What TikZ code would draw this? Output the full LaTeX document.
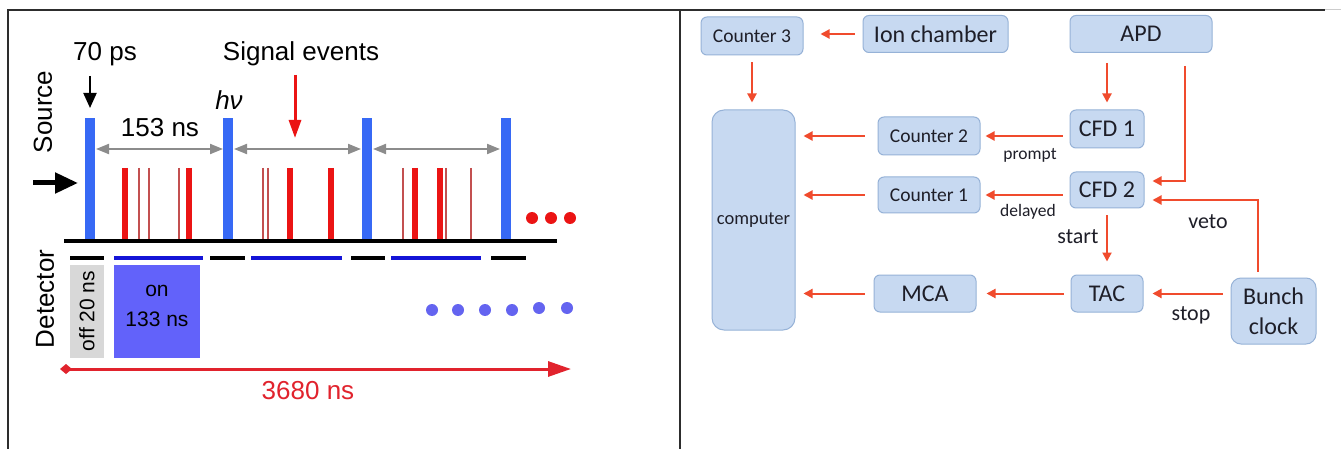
\documentclass[tikz,border=0pt]{standalone}
\usepackage{fontspec}
\setmainfont{Liberation Sans}
\newfontfamily\carlito{Carlito}
\usetikzlibrary{arrows.meta}
\definecolor{pulseblue}{RGB}{55,105,245}
\definecolor{sigred}{RGB}{235,20,20}
\definecolor{thinred}{RGB}{195,80,80}
\definecolor{detblue}{RGB}{20,20,215}
\definecolor{onblue}{RGB}{98,98,250}
\definecolor{dotblue}{RGB}{100,100,240}
\definecolor{offgray}{RGB}{216,216,216}
\definecolor{spanred}{RGB}{225,35,45}
\definecolor{boxfill}{RGB}{199,217,241}
\definecolor{boxline}{RGB}{150,178,215}
\definecolor{flow}{RGB}{240,75,45}
\definecolor{framegray}{RGB}{45,45,45}
\definecolor{spangray}{RGB}{140,140,140}
\definecolor{labeltext}{RGB}{30,30,40}
\begin{document}
\begin{tikzpicture}[x=1pt,y=-1pt,
  big/.style={font=\fontsize{26}{30}\selectfont, inner sep=0pt},
  small/.style={font=\fontsize{21}{30}\selectfont, inner sep=0pt},
  unit/.style={draw=boxline, line width=1pt, fill=boxfill, rounded corners=6pt,
    font=\carlito\fontsize{24}{27}\selectfont, inner sep=0pt, text=labeltext},
  unitsm/.style={unit, font=\carlito\fontsize{19.5}{22}\selectfont},
  flowarr/.style={draw=flow, line width=2pt, -{Triangle[length=9pt,width=9pt]}},
  tag/.style={font=\carlito\fontsize{22}{24}\selectfont, inner sep=0pt, text=labeltext},
  tagsm/.style={font=\carlito\fontsize{17.5}{20}\selectfont, inner sep=0pt, text=labeltext},
  span/.style={draw=spangray, line width=2pt,
    {Triangle[length=13pt,width=10pt]}-{Triangle[length=13pt,width=10pt]}},
  pulse/.style={fill=pulseblue},
  sigthick/.style={draw=sigred, line width=6pt},
  sigthin/.style={draw=thinred, line width=1.6pt},
  gate/.style={line width=4pt},
]
\useasboundingbox (0,0) rectangle (1341,449);
\fill[white] (0,0) rectangle (1341,449);

% panel frames
\draw[framegray, line width=1.6pt] (8,449) -- (8,10) -- (680,10) -- (680,449);
\draw[framegray, line width=1.6pt] (680,10) -- (1325,10);
\draw[gray!40, line width=1pt] (1325,10) -- (1341,10);

% ---------------- timing diagram ----------------
\node[big, rotate=90] (src) at (43,112) {Source};
\node[big, rotate=90] (det) at (45,299) {Detector};
\node[big] (ps) at (105,54) {70 ps};
\node[big] (sig) at (301,54) {Signal events};
\node[big] (per) at (160,128) {153 ns};
\node[big, font=\fontsize{26}{30}\selectfont\itshape] (hnu) at (229,100) {hν};
\node[big, text=spanred] (tot) at (308,391) {3680 ns};

\draw[line width=2pt, -{Triangle[length=15pt,width=13pt]}] (90,76) -- (90,108);
\draw[sigred, line width=3pt, -{Triangle[length=18pt,width=12pt]}] (295,75) -- (295,138);
\draw[line width=5pt, -{Triangle[length=23pt,width=20pt]}] (33,183) -- (78,183);

% source pulses
\foreach \x in {90,228,367,506}
  \fill[pulse] (\x-5,118) rectangle (\x+5,241);

% pulse spacing
\draw[span] (96,149) -- (223,149);
\draw[span] (234,149) -- (361,149);
\draw[span] (373,149) -- (500,149);

% signal events
\foreach \x in {125,189,290,331,415,440}
  \draw[sigthick] (\x,168) -- (\x,241);
\foreach \x in {139,149,179,263,268,403,446,471}
  \draw[sigthin] (\x,168) -- (\x,241);

% time axis
\draw[line width=4pt] (64,241) -- (557,241);

% more pulses follow
\foreach \x in {532,551,570}
  \fill[sigred] (\x,218) circle (6);

% detector gating
\draw[gate] (70,258) -- (104,258);
\draw[gate, detblue] (114,258) -- (203,258);
\draw[gate] (210,258) -- (245,258);
\draw[gate, detblue] (251,258) -- (342,258);
\draw[gate] (351,258) -- (385,258);
\draw[gate, detblue] (391,258) -- (481,258);
\draw[gate] (491,258) -- (526,258);

\fill[offgray] (70,265) rectangle (104,358);
\fill[onblue] (114,265) rectangle (200,358);
\node[small, rotate=90] (off) at (87,311) {off 20 ns};
\node[small, align=center] (on) at (157,306) {on\\133 ns};

\foreach \x/\y in {432/310,458/310,485/310,512/310,539/308,567/308}
  \fill[dotblue] (\x,\y) circle (6);

\draw[spanred, line width=3pt,
  {Diamond[length=12pt,width=10pt]}-{Triangle[length=23pt,width=15pt]}] (60,369) -- (571,369);

% ---------------- counting electronics ----------------
\node[unitsm, minimum width=102pt, minimum height=38pt] (c3) at (752,36) {Counter 3};
\node[unit, minimum width=145pt, minimum height=37pt] (ion) at (935.5,34) {Ion chamber};
\node[unit, minimum width=142pt, minimum height=37pt] (apd) at (1141,34) {APD};
\node[unit, minimum width=83pt, minimum height=220pt, rounded corners=12pt,
  font=\carlito\fontsize{18.5}{22}\selectfont] (comp) at (753.5,220) {computer};
\node[unitsm, minimum width=102pt, minimum height=38pt] (c2) at (929,136) {Counter 2};
\node[unitsm, minimum width=102pt, minimum height=36pt] (c1) at (929,195) {Counter 1};
\node[unit, minimum width=74pt, minimum height=38pt] (cfd1) at (1107,129) {CFD 1};
\node[unit, minimum width=74pt, minimum height=36pt] (cfd2) at (1107,190) {CFD 2};
\node[unit, minimum width=72pt, minimum height=37pt] (tac) at (1107,293.5) {TAC};
\node[unit, minimum width=102pt, minimum height=37pt] (mca) at (925,293.5) {MCA};
\node[unit, minimum width=85pt, minimum height=66pt, rounded corners=10pt,
  align=center, font=\carlito\fontsize{24}{30}\selectfont] (bunch) at (1273.5,311) {Bunch\\clock};

\draw[flowarr, shorten <=8pt, shorten >=17pt] (ion.west) -- (ion.west -| c3.east);
\draw[flowarr, shorten <=7pt, shorten >=7pt] (c3.south) -- (c3.south |- comp.north);
\draw[flowarr, shorten <=13pt, shorten >=8pt] (c2.west) -- (c2.west -| comp.east);
\draw[flowarr, shorten <=13pt, shorten >=8pt] (c1.west) -- (c1.west -| comp.east);
\draw[flowarr, shorten <=9pt, shorten >=8pt] (mca.west) -- (mca.west -| comp.east);
\draw[flowarr, shorten <=7pt, shorten >=5pt] (c2.east -| cfd1.west) -- (c2.east);
\draw[flowarr, shorten <=7pt, shorten >=5pt] (c1.east -| cfd2.west) -- (c1.east);
\draw[flowarr, shorten <=7pt, shorten >=10pt] (tac.west) -- (mca.east);
\draw[flowarr, shorten <=10pt, shorten >=7pt] (cfd1.north |- apd.south) -- (cfd1.north);
\draw[flowarr, shorten <=13pt, shorten >=8pt] ([xshift=44pt]apd.south) |- ([yshift=9pt]cfd2.east);
\draw[flowarr, shorten <=6pt, shorten >=8pt] ([xshift=-15.5pt]bunch.north) |- ([yshift=-10pt]cfd2.east);
\draw[flowarr, shorten <=8pt, shorten >=9pt] (bunch.west |- tac.east) -- (tac.east);
\draw[flowarr, shorten <=7pt, shorten >=13pt] (cfd2.south) -- (tac.north);

\node[tagsm] (lp) at (1030,155) {prompt};
\node[tagsm] (ld) at (1028,212) {delayed};
\node[tag] (ls) at (1078,237) {start};
\node[tag] (lv) at (1208,222) {veto};
\node[tag] (lt) at (1191,315) {stop};
\end{tikzpicture}
\end{document}
